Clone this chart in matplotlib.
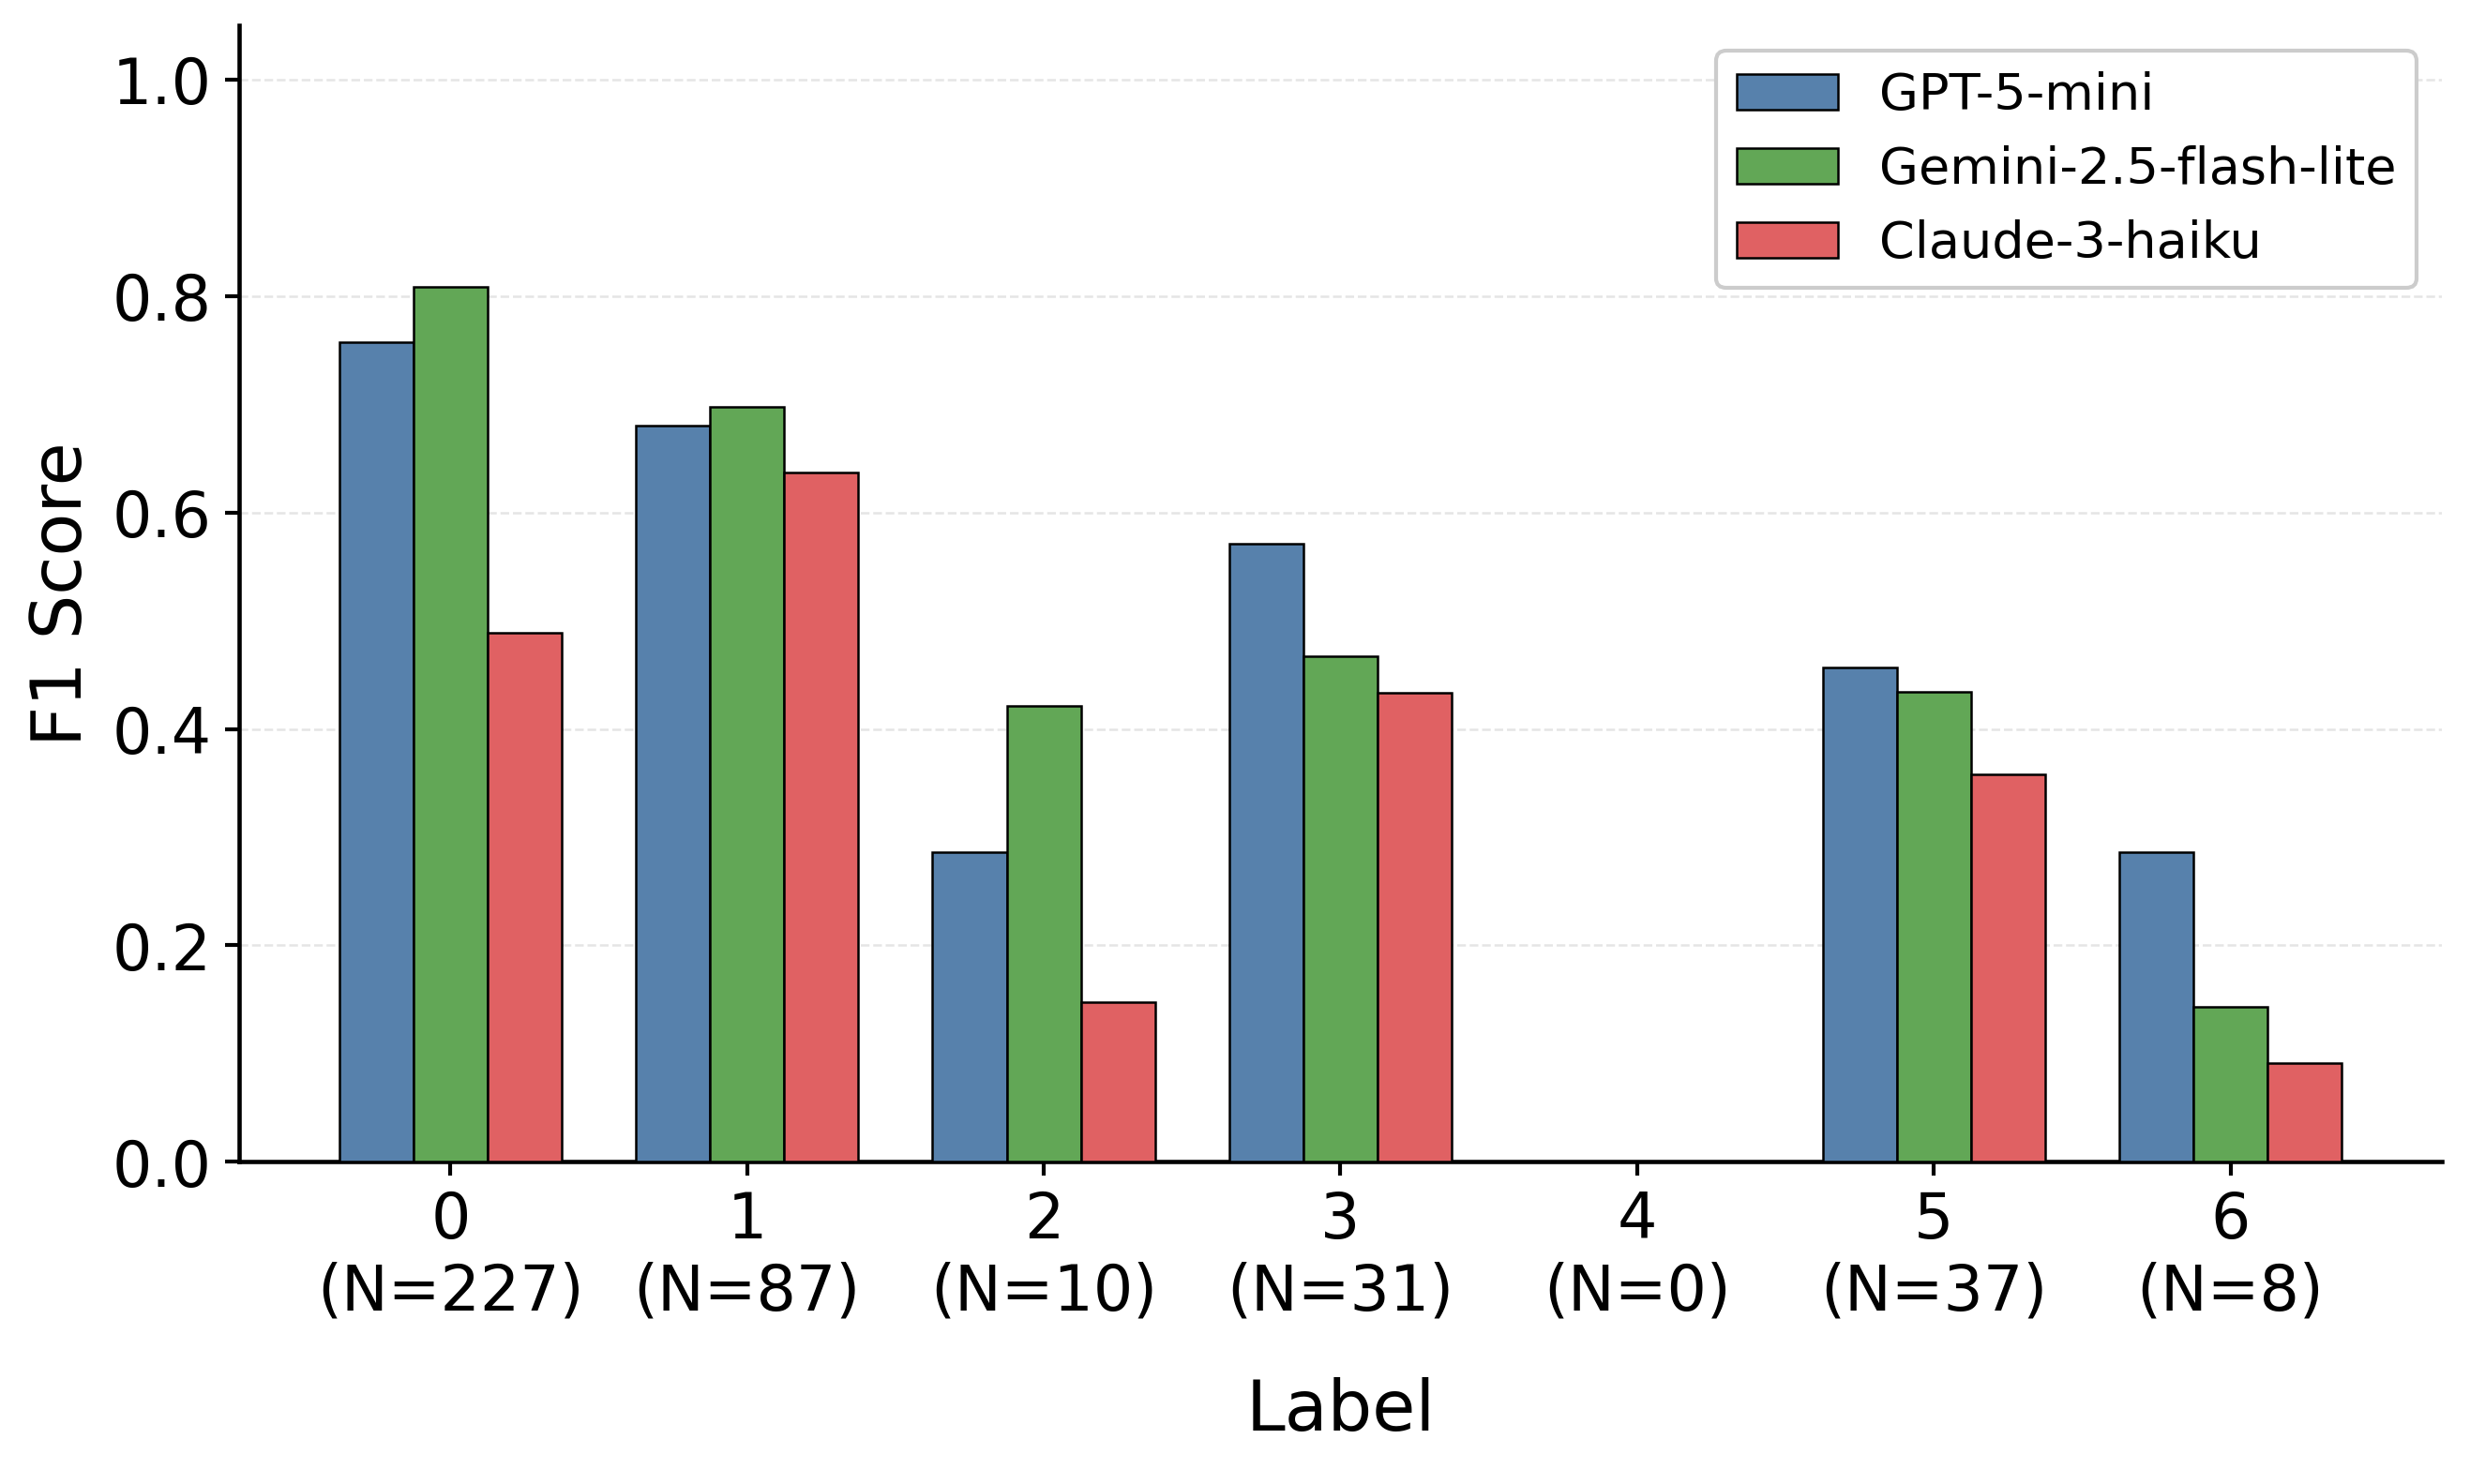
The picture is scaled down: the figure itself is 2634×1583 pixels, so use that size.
import numpy as np
import matplotlib
matplotlib.use('Agg')
import matplotlib.pyplot as plt

labels = ['0', '1', '2', '3', '4', '5', '6']
counts = [227, 87, 10, 31, 0, 37, 8]
models = ['GPT-5-mini', 'Gemini-2.5-flash-lite', 'Claude-3-haiku']
gpt = [0.757, 0.680, 0.286, 0.571, 0.0, 0.457, 0.286]
gemini = [0.808, 0.697, 0.421, 0.467, 0.0, 0.434, 0.143]
claude = [0.489, 0.637, 0.148, 0.433, 0.0, 0.358, 0.091]
colors = ['#5781AC', '#62A756', '#E06163']

fig = plt.figure(figsize=(8.78, 5.277), dpi=300)
ax = fig.add_axes([0.0968, 0.217, 0.8918, 0.766])

x = np.arange(len(labels))
w = 0.25
for i, (vals, name) in enumerate(zip([gpt, gemini, claude], models)):
    ax.bar(x + (i - 1) * w, vals, w, color=colors[i], edgecolor='black',
           linewidth=0.6, label=name, zorder=3)

ax.set_ylim(0, 1.05)
ax.set_yticks([0.0, 0.2, 0.4, 0.6, 0.8, 1.0])
ax.set_xticks(x)
ax.set_xticklabels([f'{l}\n(N={n})' for l, n in zip(labels, counts)])
ax.tick_params(axis='both', labelsize=16, width=1.0)
ax.set_xlabel('Label', fontsize=18, labelpad=14)
ax.set_ylabel('F1 Score', fontsize=18)
ax.grid(axis='y', linestyle='--', color='#cccccc', alpha=0.5, linewidth=0.6)
ax.set_axisbelow(True)
ax.spines['top'].set_visible(False)
ax.spines['right'].set_visible(False)
for s in ['left', 'bottom']:
    ax.spines[s].set_linewidth(1.1)
ax.legend(loc='upper right', fontsize=13, framealpha=1, edgecolor='#cccccc',
          handlelength=2.0, handletextpad=0.8)

fig.savefig('out.png', dpi=300)
